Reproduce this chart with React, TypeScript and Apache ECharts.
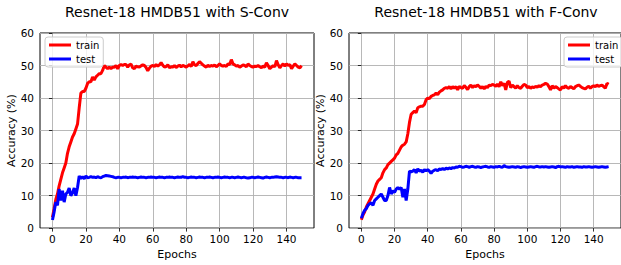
import React, { useEffect, useRef } from "react";
import * as echarts from "echarts";

const xTicks = [0, 20, 40, 60, 80, 100, 120, 140];
const titles = ["Resnet-18 HMDB51 with S-Conv", "Resnet-18 HMDB51 with F-Conv"];
const seriesNames = ["train", "test"];

const sTrain = [
  3.3, 6.0, 8.8, 10.5, 13.0, 15.0, 17.0, 18.5, 20.0, 23.0,
  25.0, 26.5, 28.0, 29.0, 30.5, 32.0, 37.0, 41.5, 42.0, 42.0,
  43.0, 44.5, 45.0, 45.0, 46.5, 45.5, 46.5, 47.0, 47.5, 47.5,
  48.5, 50.0, 49.5, 49.0, 49.5, 49.0, 49.5, 49.5, 50.0, 49.0,
  50.0, 50.3, 50.0, 50.3, 50.3, 49.5, 50.2, 50.4, 49.3, 49.0,
  49.8, 49.6, 49.5, 49.9, 50.2, 50.0, 49.4, 48.4, 49.2, 49.8,
  50.0, 49.7, 50.3, 49.8, 50.2, 50.9, 50.1, 49.5, 49.7, 50.2,
  49.3, 49.6, 49.5, 50.0, 49.4, 49.8, 50.1, 49.6, 50.0, 49.8,
  49.5, 49.9, 50.3, 49.7, 51.2, 50.2, 50.0, 50.6, 51.2, 50.7,
  50.2, 49.8, 49.5, 50.1, 49.7, 50.0, 49.8, 50.2, 49.6, 50.0,
  50.5, 50.0, 49.8, 50.0, 49.7, 50.5, 50.3, 51.8, 50.5, 50.2,
  49.8, 50.0, 49.5, 49.8, 50.2, 50.0, 49.6, 50.5, 50.0, 49.7,
  49.5, 49.8, 49.7, 50.0, 49.6, 49.3, 49.8, 49.5, 50.8, 50.0,
  49.0, 49.5, 50.0, 49.6, 51.5, 50.2, 49.3, 50.0, 50.5, 49.8,
  50.5, 50.0, 50.3, 49.0, 49.8, 50.5, 50.0, 49.5, 49.3, 50.0,
];

const sTest = [
  2.5, 5.0, 8.0, 7.0, 12.0, 8.5, 11.5, 8.0, 10.5, 11.0,
  12.3, 10.0, 10.8, 12.3, 10.0, 12.5, 16.0, 15.3, 15.8, 15.2,
  16.0, 15.5, 15.6, 15.8, 15.6, 15.7, 15.5, 15.8, 15.6, 15.5,
  15.8, 16.0, 16.2, 16.1, 16.0, 15.9, 15.8, 15.6, 15.5, 15.6,
  15.6, 15.5, 15.6, 15.6, 15.7, 15.5, 15.6, 15.6, 15.7, 15.6,
  15.6, 15.5, 15.6, 15.7, 15.6, 15.6, 15.5, 15.6, 15.6, 15.7,
  15.6, 15.6, 15.5, 15.6, 15.7, 15.6, 15.6, 15.5, 15.6, 15.6,
  15.7, 15.6, 15.6, 15.5, 15.6, 15.7, 15.6, 15.6, 15.8, 15.6,
  15.6, 15.5, 15.6, 15.7, 15.6, 15.6, 15.5, 15.6, 15.7, 15.6,
  15.6, 15.5, 15.6, 15.6, 15.7, 15.6, 15.5, 15.6, 15.6, 15.7,
  15.6, 15.5, 15.6, 15.7, 15.6, 15.6, 15.5, 15.6, 15.6, 15.5,
  15.6, 15.7, 15.6, 15.5, 15.6, 15.6, 15.5, 15.4, 15.5, 15.6,
  15.6, 15.5, 15.6, 15.7, 15.6, 15.5, 15.4, 15.6, 15.7, 15.6,
  15.5, 15.6, 15.6, 15.7, 15.8, 15.7, 15.6, 15.6, 15.5, 15.6,
  15.6, 15.5, 15.7, 15.6, 15.5, 15.6, 15.6, 15.5, 15.5, 15.5,
];

const fTrain = [
  2.6, 4.0, 5.0, 6.5, 7.5, 8.5, 9.5, 10.5, 12.0, 13.5,
  14.5, 15.0, 15.5, 17.0, 18.0, 18.5, 19.5, 20.0, 20.5, 21.0,
  21.5, 22.5, 23.0, 24.0, 25.0, 25.5, 25.8, 26.5, 29.0, 32.5,
  35.0, 35.5, 36.0, 35.5, 37.0, 37.3, 37.5, 37.5, 38.0, 39.5,
  40.0, 39.8, 40.5, 40.8, 41.0, 41.5, 41.0, 41.8, 42.2, 42.5,
  43.0, 43.2, 43.0, 43.5, 42.8, 43.5, 43.0, 43.5, 42.5, 43.6,
  43.2, 43.0, 43.8, 43.3, 42.6, 43.5, 44.0, 43.2, 43.8, 43.5,
  44.0, 43.6, 43.0, 43.5, 42.8, 43.6, 43.2, 44.0, 43.8, 44.2,
  44.0, 43.6, 44.3, 43.5, 45.0, 43.8, 44.5, 42.5, 44.8, 45.2,
  43.2, 44.0, 43.5, 43.0, 43.8, 43.2, 43.0, 43.6, 44.2, 44.0,
  43.2, 43.5, 43.0, 43.4, 43.2, 43.6, 43.3, 43.8, 43.5, 44.0,
  44.2, 44.5, 44.3, 43.5, 42.5, 43.8, 43.0, 43.5, 43.2, 42.8,
  42.5, 43.5, 43.0, 43.8, 43.2, 43.0, 43.5, 43.2, 42.8, 43.5,
  43.8, 44.0, 43.6, 43.2, 43.0, 42.8, 43.3, 43.6, 43.0, 43.5,
  43.8, 43.5, 44.0, 43.6, 43.8, 44.0, 43.5, 43.0, 44.5, 44.2,
];

const fTest = [
  3.0, 4.5, 5.5, 6.0, 7.0, 7.5, 7.8, 7.0, 8.5, 9.0,
  9.5, 10.0, 10.5, 9.5, 8.5, 8.5, 10.0, 12.5, 10.5, 11.5,
  11.0, 12.0, 12.5, 12.0, 12.5, 9.5, 12.0, 8.5, 12.0, 17.5,
  17.3, 17.5, 18.0, 17.0, 18.2, 17.5, 17.8, 17.2, 18.0, 17.6,
  18.0, 17.5, 16.8, 17.5, 17.8, 18.0, 17.6, 18.2, 18.0, 18.3,
  18.0, 18.4, 18.2, 18.5, 18.3, 18.6, 18.5, 18.8, 18.7, 19.0,
  18.9, 18.7, 18.8, 19.0, 18.9, 18.7, 18.9, 19.0, 18.8, 18.7,
  18.9, 18.8, 18.6, 18.8, 18.9, 19.0, 18.8, 18.7, 18.9, 18.8,
  18.7, 18.9, 18.8, 19.0, 18.8, 18.7, 19.2, 18.9, 18.8, 18.7,
  18.8, 18.9, 18.8, 18.7, 18.9, 18.8, 18.6, 18.8, 18.9, 18.8,
  18.7, 18.8, 18.9, 18.8, 18.7, 18.9, 19.0, 18.8, 18.8, 18.9,
  18.8, 18.9, 18.8, 18.7, 18.8, 18.9, 18.8, 18.6, 18.9, 19.0,
  18.8, 18.9, 18.8, 18.7, 18.9, 18.8, 18.8, 18.9, 18.7, 18.8,
  18.9, 18.8, 18.8, 18.7, 18.9, 18.8, 18.8, 18.9, 18.8, 18.7,
  18.8, 18.9, 18.8, 18.7, 18.8, 18.9, 18.8, 18.7, 18.8, 18.9,
];

const FONT = "DejaVu Sans";

function toPairs(vals: number[]) {
  return vals.map((v, i) => [i, v]);
}

export default function App() {
  const ref = useRef<HTMLDivElement>(null);
  useEffect(() => {
    if (!ref.current) return;
    const chart = echarts.init(ref.current, null, { renderer: "svg" });
    const grids = [
      { left: 40, top: 33, width: 274, height: 200 },
      { left: 349, top: 33, width: 274, height: 200 },
    ];
    const centers = [177, 486];
    const legendLefts = [45, 564];
    const xAxes = grids.map((_, i) => ({
      type: "value",
      gridIndex: i,
      min: -7.45,
      max: 156.45,
      name: "Epochs",
      nameLocation: "middle",
      nameGap: 17,
      nameTextStyle: { fontFamily: FONT, fontSize: 11, color: "#000" },
      axisLine: { show: false },
      axisTick: { show: true, length: 3.5, customValues: xTicks, lineStyle: { color: "#000", width: 0.8 } },
      axisLabel: { customValues: xTicks, fontFamily: FONT, fontSize: 10.5, color: "#000", margin: 5 },
      splitLine: { show: true, lineStyle: { color: "#b0b0b0", width: 0.9 } },
    }));
    const yAxes = grids.map((_, i) => ({
      type: "value",
      gridIndex: i,
      min: 0,
      max: 60,
      interval: 10,
      name: "Accuracy (%)",
      nameLocation: "middle",
      nameGap: 22,
      nameTextStyle: { fontFamily: FONT, fontSize: 11, color: "#000" },
      axisLine: { show: false },
      axisTick: { show: true, length: 3.5, lineStyle: { color: "#000", width: 0.8 } },
      axisLabel: { fontFamily: FONT, fontSize: 10.5, color: "#000", margin: 6 },
      splitLine: { show: true, lineStyle: { color: "#b0b0b0", width: 0.9 } },
    }));
    const dataSets = [
      [sTrain, sTest],
      [fTrain, fTest],
    ];
    const colors = ["#ff0000", "#0000ff"];
    const series: any[] = [];
    dataSets.forEach((pair, gi) => {
      pair.forEach((vals, si) => {
        series.push({
          type: "line",
          name: seriesNames[si],
          xAxisIndex: gi,
          yAxisIndex: gi,
          data: toPairs(vals),
          showSymbol: false,
          symbol: "none",
          lineStyle: { color: colors[si], width: 3 },
          itemStyle: { color: colors[si] },
          z: 2 + si,
        });
      });
    });
    chart.setOption({
      animation: false,
      backgroundColor: "#fff",
      title: titles.map((t, i) => ({
        text: t,
        left: centers[i],
        top: 5,
        padding: 0,
        textAlign: "center",
        textStyle: { fontFamily: FONT, fontSize: 14, fontWeight: "normal", color: "#000" },
      })),
      legend: legendLefts.map((l) => ({
        data: seriesNames,
        left: l,
        top: 37,
        orient: "vertical",
        icon: "rect",
        itemWidth: 22,
        itemHeight: 3,
        itemGap: 2,
        padding: [2, 4, 2, 4],
        borderColor: "#cccccc",
        borderWidth: 1,
        borderRadius: 3,
        backgroundColor: "rgba(255,255,255,0.8)",
        textStyle: { fontFamily: FONT, fontSize: 10, color: "#000", lineHeight: 12 },
        selectedMode: false,
      })),
      grid: grids.map((g) => ({ ...g, show: true, borderColor: "#000", borderWidth: 1, backgroundColor: "transparent" })),
      xAxis: xAxes,
      yAxis: yAxes,
      series,
    });
    return () => chart.dispose();
  }, []);
  return <div ref={ref} style={{ position: "absolute", left: 0, top: 0, width: 621, height: 265 }} />;
}
